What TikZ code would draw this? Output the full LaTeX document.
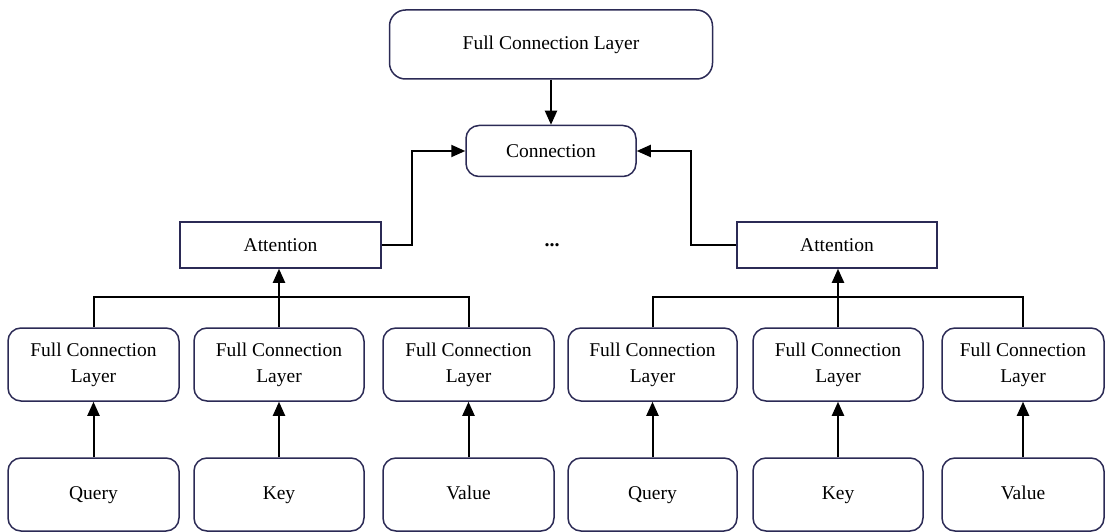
\documentclass[tikz,border=0pt]{standalone}
\usepackage{fontspec}
\setmainfont{Liberation Serif}
\usetikzlibrary{arrows.meta,positioning}
\definecolor{boxc}{HTML}{2B2A55}
\tikzset{
  x=1pt,y=-1pt,
  rbox/.style={draw=boxc,line width=1.5pt,rounded corners=13pt,inner sep=0pt,align=center,
    font=\fontsize{19.5}{26}\selectfont},
  sbox/.style={draw=boxc,line width=1.5pt,inner sep=0pt,align=center,
    font=\fontsize{19.5}{26}\selectfont},
  ln/.style={line width=2pt,black},
  arr/.style={ln,-{Triangle[width=12pt,length=14pt]}},
}
\begin{document}
\begin{tikzpicture}
\useasboundingbox (0,0) rectangle (1106,532);
\node[rbox,minimum width=323pt,minimum height=69pt,rounded corners=16pt] (top) at (551,44.5) {Full Connection Layer};
\node[rbox,minimum width=170pt,minimum height=51pt] (conn) at (551,151) {Connection};
\node[sbox,minimum width=201pt,minimum height=46pt] (attL) at (280.5,245) {Attention};
\node[sbox,minimum width=200pt,minimum height=46pt] (attR) at (837,245) {Attention};
\node[font=\fontsize{20}{26}\selectfont\bfseries] (dots) at (552,245) {...};
% FCL boxes
\foreach \n/\l/\r in {1/8/179,2/194/364,3/383/554,4/568/737,5/753/923,6/942/1104}{
  \pgfmathsetmacro{\cx}{(\l+\r)/2}
  \pgfmathsetmacro{\w}{\r-\l}
  \node[rbox,minimum width=\w pt,minimum height=73pt] (f\n) at (\cx,364.5) {Full Connection\\Layer};
}
\node[rbox,minimum width=171pt,minimum height=73pt] (q1) at (93.5,494.5) {\strut Query};
\node[rbox,minimum width=170pt,minimum height=73pt] (k1) at (279,494.5) {\strut Key};
\node[rbox,minimum width=171pt,minimum height=73pt] (v1) at (468.5,494.5) {\strut Value};
\node[rbox,minimum width=169pt,minimum height=73pt] (q2) at (652.5,494.5) {\strut Query};
\node[rbox,minimum width=170pt,minimum height=73pt] (k2) at (838,494.5) {\strut Key};
\node[rbox,minimum width=162pt,minimum height=73pt] (v2) at (1023,494.5) {\strut Value};
% arrows
\draw[arr] (top.south) -- (top.south |- conn.north);
\draw[arr] (attL.east) -- ++(30,0) |- (conn.west);
\draw[arr] (attR.west) -- ++(-45,0) |- (conn.east);
\foreach \a/\b in {q1/f1,k1/f2,v1/f3,q2/f4,k2/f5,v2/f6}{
  \draw[arr] (\a) -- (\b);
}
\coordinate (busL) at (0,297);
\draw[ln] (f1.north) |- (busL -| f3.north) -- (f3.north);
\draw[arr] (f2.north) -- (f2.north |- attL.south);
\draw[ln] (f4.north) |- (busL -| f6.north) -- (f6.north);
\draw[arr] (f5.north) -- (f5.north |- attR.south);
\end{tikzpicture}
\end{document}
